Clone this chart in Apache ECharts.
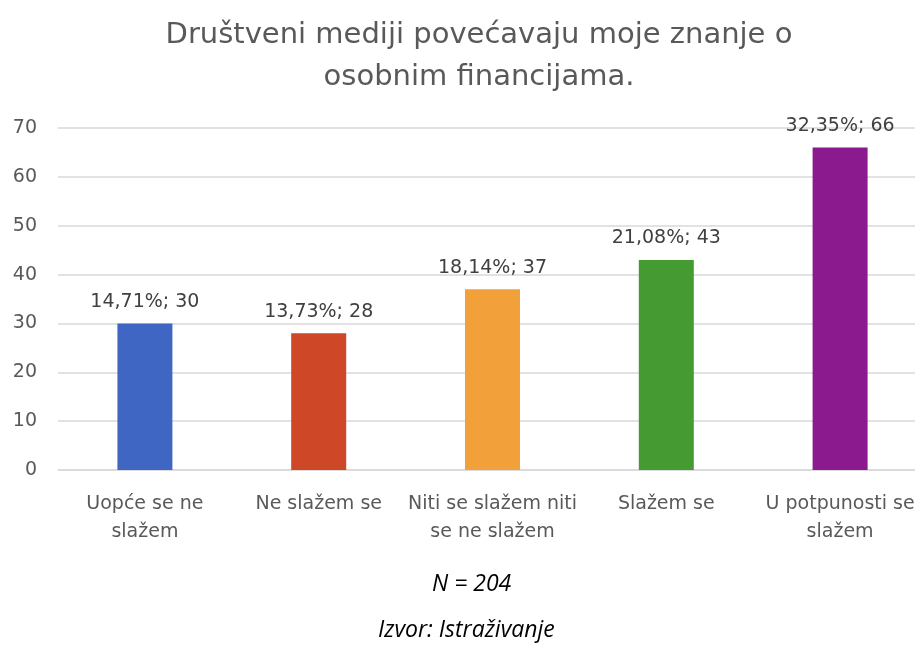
<!DOCTYPE html>
<html><head><meta charset="utf-8">
<script src="https://cdn.jsdelivr.net/npm/echarts@6/dist/echarts.min.js"></script>
<style>html,body{margin:0;padding:0;background:#fff}#c{width:915px;height:650px}</style>
</head><body><div id="c"></div>
<script>
const categories = ['Uopće se ne\nslažem', 'Ne slažem se', 'Niti se slažem niti\nse ne slažem', 'Slažem se', 'U potpunosti se\nslažem'];
const values = [30, 28, 37, 43, 66];
const percents = ['14,71%', '13,73%', '18,14%', '21,08%', '32,35%'];
const colors = ['#4066C4', '#CE4727', '#F2A03A', '#469A32', '#8B1A8F'];
const yTicks = [0, 10, 20, 30, 40, 50, 60, 70];

const FONT = 'DejaVu Sans';
const chart = echarts.init(document.getElementById('c'));
chart.setOption({
  animation: false,
  title: {
    text: 'Društveni mediji povećavaju moje znanje o\nosobnim financijama.',
    left: 474, top: 9, textAlign: 'center',
    textStyle: { fontFamily: FONT, fontSize: 29, fontWeight: 'normal', color: '#595959', lineHeight: 42 }
  },
  grid: { left: 58, top: 128, right: -12, bottom: 180, containLabel: false, outerBoundsMode: 'none' },
  xAxis: {
    type: 'category', data: categories,
    axisLine: { show: true, lineStyle: { color: '#d9d9d9', width: 1.5 } },
    axisTick: { show: false },
    axisLabel: { fontFamily: FONT, fontSize: 19, color: '#595959', lineHeight: 28, margin: 20, interval: 0 }
  },
  yAxis: {
    type: 'value', min: 0, max: 70, interval: 10,
    axisLine: { show: false }, axisTick: { show: false },
    axisLabel: { fontFamily: FONT, fontSize: 19, color: '#595959', margin: 21,
      formatter: v => yTicks.includes(v) ? String(v) : '' },
    splitLine: { lineStyle: { color: '#d9d9d9', width: 1.5 } }
  },
  series: [{
    type: 'bar', barWidth: 55,
    data: values.map((v, i) => ({ value: v, itemStyle: { color: colors[i] } })),
    label: {
      show: true, position: 'top', distance: 12,
      fontFamily: FONT, fontSize: 19, color: '#404040',
      formatter: p => percents[p.dataIndex] + '; ' + p.value
    }
  }],
  graphic: [
    { type: 'text', left: 432, top: 573, style: { text: 'N = 204', font: 'italic 23px "Open Sans"', fill: '#000' } },
    { type: 'text', left: 378, top: 619, style: { text: 'Izvor: Istraživanje', font: 'italic 23px "Open Sans"', fill: '#000' } }
  ]
});
</script></body></html>
